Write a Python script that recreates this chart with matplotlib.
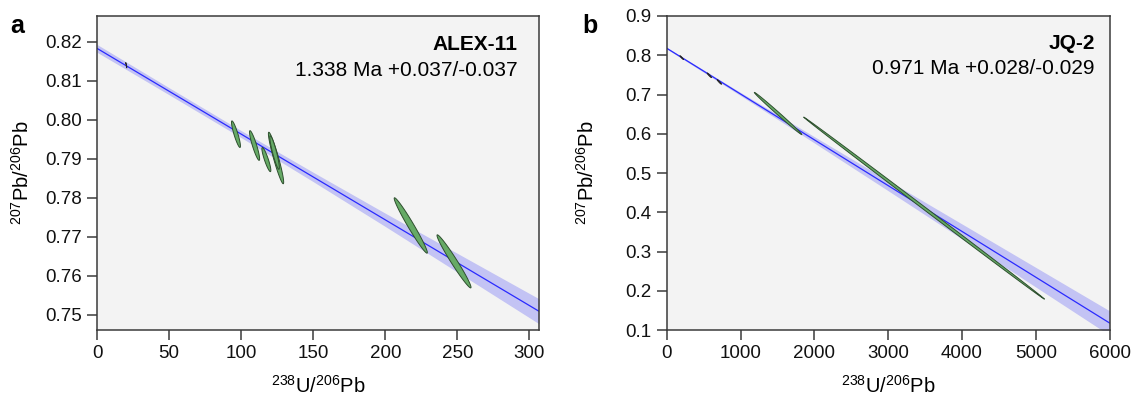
import numpy as np
import matplotlib
matplotlib.use("Agg")
import matplotlib.pyplot as plt
from matplotlib.patches import Polygon

plt.rcParams["font.family"] = ["Liberation Sans", "DejaVu Sans"]
plt.rcParams["mathtext.fontset"] = "custom"
plt.rcParams["mathtext.rm"] = "Liberation Sans"
plt.rcParams["mathtext.it"] = "Liberation Sans:italic"

# =====================================================
# DATA
# =====================================================

# panel a : ALEX-11
a_name = "ALEX-11"
a_age = "1.338 Ma +0.037/-0.037"
a_xlim = (0, 306.7)
a_ylim = (0.7461, 0.8266)
a_xticks = [0, 50, 100, 150, 200, 250, 300]
a_yticks = [0.75, 0.76, 0.77, 0.78, 0.79, 0.80, 0.81, 0.82]
a_ytick_labels = ["0.75", "0.76", "0.77", "0.78", "0.79", "0.80", "0.81", "0.82"]

a_line_x = [0, 306.7]
a_line_y = [0.8183, 0.7509]
a_band_x = [0, 50, 100, 150, 200, 250, 306.7]
a_band_hw = [0.0010, 0.0009, 0.0009, 0.0012, 0.0017, 0.0024, 0.0032]

# ellipses: centre x, centre y, half-width x, half-height y, correlation
a_ell_x = [96.4, 109.3, 117.5, 124.2, 123.2, 217.7, 247.7]
a_ell_y = [0.7963, 0.7934, 0.7898, 0.7902, 0.7916, 0.7729, 0.7637]
a_ell_sx = [3.1, 3.5, 3.1, 5.3, 3.3, 11.5, 11.8]
a_ell_sy = [0.0034, 0.0038, 0.0031, 0.0066, 0.0043, 0.0071, 0.0068]
a_ell_rho = [-0.89, -0.90, -0.89, -0.94, -0.90, -0.978, -0.978]

a_small_x = [20.3]
a_small_y = [0.8140]
a_small_sx = [0.4]
a_small_sy = [0.0007]

# panel b : JQ-2
b_name = "JQ-2"
b_age = "0.971 Ma +0.028/-0.029"
b_xlim = (0, 6000)
b_ylim = (0.1, 0.9)
b_xticks = [0, 1000, 2000, 3000, 4000, 5000, 6000]
b_yticks = [0.1, 0.2, 0.3, 0.4, 0.5, 0.6, 0.7, 0.8, 0.9]

b_line_x = [0, 6000]
b_line_y = [0.8179, 0.118]
b_band_x = [0, 1000, 2000, 3000, 4000, 5000, 6000]
b_band_hw = [0.002, 0.004, 0.008, 0.013, 0.019, 0.025, 0.031]

b_ell_x = [1509, 3487]
b_ell_y = [0.6516, 0.4106]
b_ell_sx = [322, 1632]
b_ell_sy = [0.0538, 0.232]
b_ell_rho = [-0.9966, -0.99983]

b_small_x = [203, 577, 713]
b_small_y = [0.794, 0.749, 0.732]
b_small_sx = [25, 30, 30]
b_small_sy = [0.005, 0.006, 0.006]

# =====================================================
# HELPERS
# =====================================================

BG = "#f3f3f3"
SPINE = "#3a3a3a"
LINE = "#2a2aff"
BAND = "#c3c3f4"
FILL = "#66aa66"
EDGE = "#2e4f2e"


def ellipse_xy(cx, cy, sx, sy, rho, n=200):
    t = np.linspace(0, 2 * np.pi, n)
    x = cx + sx * np.cos(t)
    y = cy + sy * (rho * np.cos(t) + np.sqrt(1 - rho ** 2) * np.sin(t))
    return np.column_stack([x, y])


def draw_panel(ax, line_x, line_y, band_x, band_hw, ell, small, xlim, ylim):
    ax.set_facecolor(BG)

    bx = np.array(band_x)
    by = np.interp(bx, line_x, line_y)
    hw = np.array(band_hw)
    ax.fill_between(bx, by - hw, by + hw, color=BAND, lw=0, zorder=1)
    ax.plot(line_x, line_y, color=LINE, lw=0.9, zorder=2)

    for cx, cy, sx, sy, r in zip(*ell):
        ax.add_patch(Polygon(ellipse_xy(cx, cy, sx, sy, r), closed=True,
                             facecolor=FILL, edgecolor=EDGE, lw=0.7,
                             zorder=3))
    for cx, cy, sx, sy in zip(*small):
        ax.add_patch(Polygon(ellipse_xy(cx, cy, sx, sy, -0.95), closed=True,
                             facecolor="#555555", edgecolor="#222222",
                             lw=0.6, zorder=3))

    ax.set_xlim(*xlim)
    ax.set_ylim(*ylim)
    for s in ax.spines.values():
        s.set_color(SPINE)
        s.set_linewidth(1.1)
    ax.tick_params(direction="out", length=7.5, width=1.1, color=SPINE,
                   labelsize=13.5, pad=3.5, labelcolor="#111111")
    ax.set_xlabel(r"$^{238}$U/$^{206}$Pb", fontsize=14.5)
    ax.set_ylabel(r"$^{207}$Pb/$^{206}$Pb", fontsize=14.5)
    ax.xaxis.set_label_coords(0.5, -0.142)


# =====================================================
# FIGURE
# =====================================================

fig = plt.figure(figsize=(11.31, 4.03), dpi=100)

ax_a = fig.add_axes([0.0858, 0.1811, 0.3908, 0.7792])
ax_b = fig.add_axes([0.5895, 0.1811, 0.3915, 0.7792])

draw_panel(ax_a, a_line_x, a_line_y, a_band_x, a_band_hw,
           (a_ell_x, a_ell_y, a_ell_sx, a_ell_sy, a_ell_rho),
           (a_small_x, a_small_y, a_small_sx, a_small_sy),
           a_xlim, a_ylim)
ax_a.set_xticks(a_xticks)
ax_a.set_yticks(a_yticks)
ax_a.set_yticklabels(a_ytick_labels)
ax_a.yaxis.set_label_coords(-0.145, 0.5)

draw_panel(ax_b, b_line_x, b_line_y, b_band_x, b_band_hw,
           (b_ell_x, b_ell_y, b_ell_sx, b_ell_sy, b_ell_rho),
           (b_small_x, b_small_y, b_small_sx, b_small_sy),
           b_xlim, b_ylim)
ax_b.set_xticks(b_xticks)
ax_b.set_yticks(b_yticks)
ax_b.yaxis.set_label_coords(-0.155, 0.5)

# sample names and ages
ax_a.text(0.952, 0.908, a_name, transform=ax_a.transAxes, ha="right",
          va="center", fontsize=15, fontweight="bold")
ax_a.text(0.952, 0.825, a_age, transform=ax_a.transAxes, ha="right",
          va="center", fontsize=15)
ax_b.text(0.967, 0.913, b_name, transform=ax_b.transAxes, ha="right",
          va="center", fontsize=15, fontweight="bold")
ax_b.text(0.967, 0.832, b_age, transform=ax_b.transAxes, ha="right",
          va="center", fontsize=15)

# panel letters
fig.text(10 / 1131, 1 - 33 / 403, "a", fontsize=18, fontweight="bold",
         va="baseline", ha="left")
fig.text(582 / 1131, 1 - 33 / 403, "b", fontsize=18, fontweight="bold",
         va="baseline", ha="left")

fig.savefig("out.png", dpi=100)
